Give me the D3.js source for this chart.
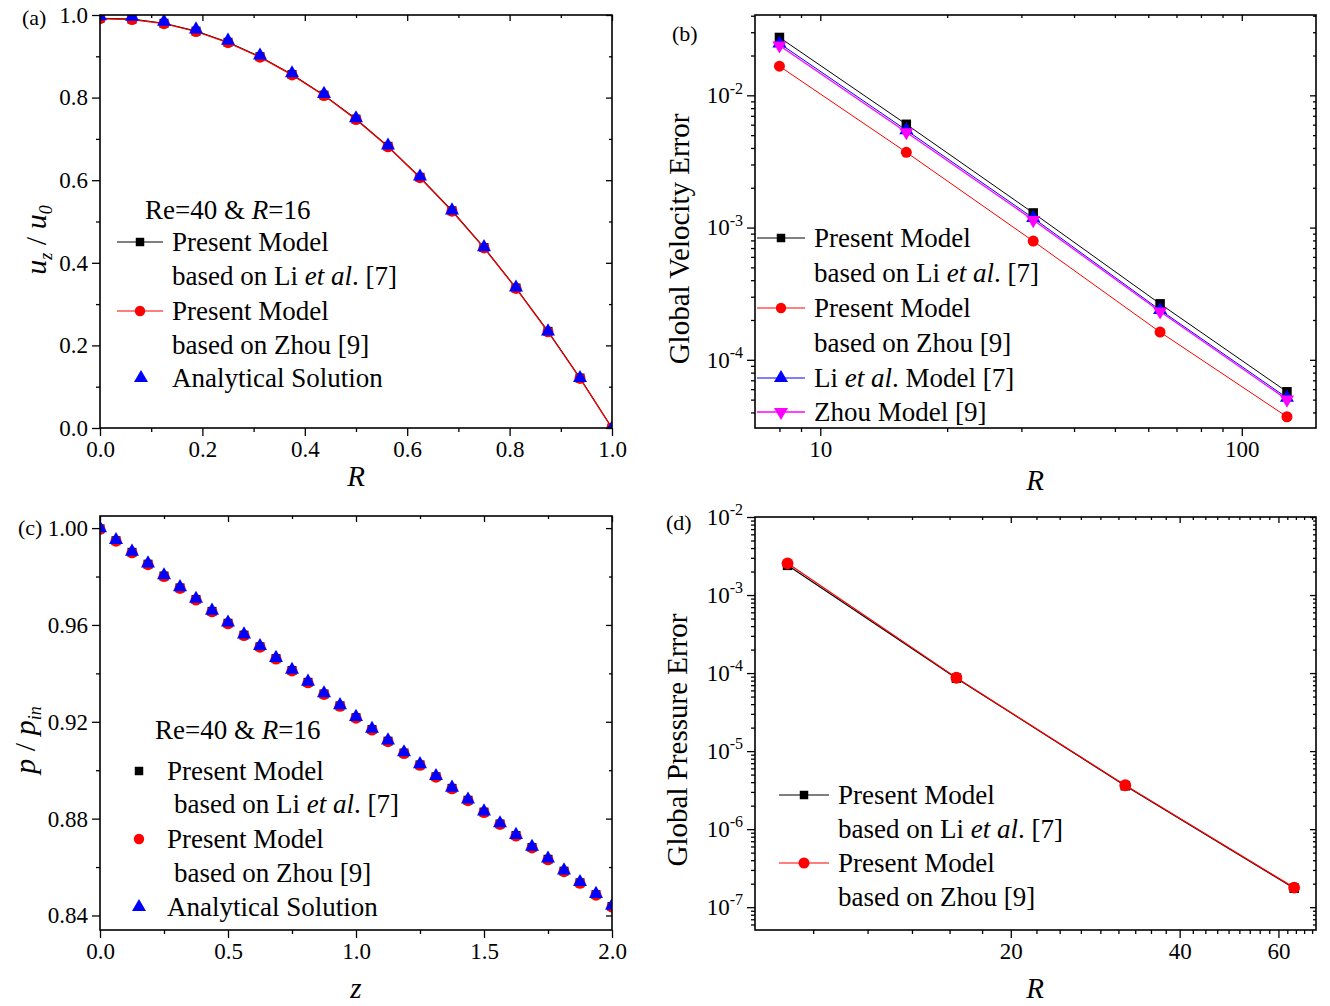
<!DOCTYPE html>
<html><head><meta charset="utf-8">
<script src="https://cdn.jsdelivr.net/npm/d3@7"></script>
<style>body{margin:0;background:#fff}svg{display:block}</style>
</head><body><svg id="c" width="1330" height="1006"></svg>
<script>
// ---------- Panel (a): velocity profile ----------
const rA = [0, 0.0625, 0.125, 0.1875, 0.25, 0.3125, 0.375, 0.4375, 0.5, 0.5625, 0.625, 0.6875, 0.75, 0.8125, 0.875, 0.9375, 1.0];
const uPresentLiA = [0.992, 0.990, 0.980, 0.961, 0.934, 0.899, 0.856, 0.806, 0.748, 0.682, 0.607, 0.526, 0.437, 0.339, 0.234, 0.121, 0.000];
const uPresentZhouA = [0.991, 0.989, 0.979, 0.960, 0.933, 0.898, 0.855, 0.805, 0.747, 0.681, 0.606, 0.525, 0.436, 0.338, 0.233, 0.120, 0.000];
const uAnalyticA = [0.997, 0.996, 0.984, 0.965, 0.938, 0.902, 0.859, 0.809, 0.750, 0.684, 0.609, 0.527, 0.438, 0.340, 0.234, 0.121, 0.000];
const xTicksA = [0, 0.2, 0.4, 0.6, 0.8, 1.0];
const xMinorA = [0.1, 0.3, 0.5, 0.7, 0.9];
const yTicksA = [0, 0.2, 0.4, 0.6, 0.8, 1.0];
const yMinorA = [0.1, 0.3, 0.5, 0.7, 0.9];

// ---------- Panel (b): global velocity error ----------
const rB = [8, 16, 32, 64, 128];
const errPresentLiB = [0.0274, 0.00604, 0.00129, 2.65e-4, 5.73e-5];
const errPresentZhouB = [0.0166, 0.00371, 7.9e-4, 1.62e-4, 3.71e-5];
const errLiB = [0.0247, 0.00545, 0.00118, 2.38e-4, 5.16e-5];
const errZhouB = [0.0238, 0.00526, 0.00114, 2.32e-4, 5.0e-5];
const xTicksB = [10, 100];
const xMinorB = [8, 9, 20, 30, 40, 50, 60, 70, 80, 90];
const yTicksB = [1e-4, 1e-3, 1e-2];
const yMinorB = [4e-5, 5e-5, 6e-5, 7e-5, 8e-5, 9e-5, 2e-4, 3e-4, 4e-4, 5e-4, 6e-4, 7e-4, 8e-4, 9e-4, 2e-3, 3e-3, 4e-3, 5e-3, 6e-3, 7e-3, 8e-3, 9e-3, 2e-2, 3e-2, 4e-2];

// ---------- Panel (c): pressure along z ----------
const zC = [0, 0.0625, 0.125, 0.1875, 0.25, 0.3125, 0.375, 0.4375, 0.5, 0.5625, 0.625, 0.6875, 0.75, 0.8125, 0.875, 0.9375, 1.0, 1.0625, 1.125, 1.1875, 1.25, 1.3125, 1.375, 1.4375, 1.5, 1.5625, 1.625, 1.6875, 1.75, 1.8125, 1.875, 1.9375, 2.0];
const pAnalyticC = [1.0000, 0.9951, 0.9903, 0.9854, 0.9805, 0.9756, 0.9708, 0.9659, 0.9610, 0.9561, 0.9513, 0.9464, 0.9415, 0.9366, 0.9318, 0.9269, 0.9220, 0.9171, 0.9123, 0.9074, 0.9025, 0.8976, 0.8928, 0.8879, 0.8830, 0.8781, 0.8733, 0.8684, 0.8635, 0.8586, 0.8538, 0.8489, 0.8440];
const pPresentLiC = [0.9997, 0.9948, 0.9900, 0.9851, 0.9802, 0.9753, 0.9705, 0.9656, 0.9607, 0.9558, 0.9510, 0.9461, 0.9412, 0.9363, 0.9315, 0.9266, 0.9217, 0.9168, 0.9120, 0.9071, 0.9022, 0.8973, 0.8925, 0.8876, 0.8827, 0.8778, 0.8730, 0.8681, 0.8632, 0.8583, 0.8535, 0.8486, 0.8437];
const pPresentZhouC = [0.9995, 0.9946, 0.9898, 0.9849, 0.9800, 0.9751, 0.9703, 0.9654, 0.9605, 0.9556, 0.9508, 0.9459, 0.9410, 0.9361, 0.9313, 0.9264, 0.9215, 0.9166, 0.9118, 0.9069, 0.9020, 0.8971, 0.8923, 0.8874, 0.8825, 0.8776, 0.8728, 0.8679, 0.8630, 0.8581, 0.8533, 0.8484, 0.8435];
const xTicksC = [0, 0.5, 1.0, 1.5, 2.0];
const xMinorC = [0.25, 0.75, 1.25, 1.75];
const yTicksC = [0.84, 0.88, 0.92, 0.96, 1.00];
const yMinorC = [0.86, 0.90, 0.94, 0.98];

// ---------- Panel (d): global pressure error ----------
const rD = [8, 16, 32, 64];
const errPresentLiD = [2.40e-3, 8.6e-5, 3.6e-6, 1.75e-7];
const errPresentZhouD = [2.55e-3, 8.7e-5, 3.65e-6, 1.78e-7];
const xTicksD = [20, 40, 60];
const xMinorD = [8.889, 11.111, 13.333, 15.556, 17.778, 22.222, 24.444, 26.667, 28.889, 31.111, 33.333, 35.556, 37.778, 42.222, 44.444, 46.667, 48.889, 51.111, 53.333, 55.556, 57.778, 62.222, 64.444, 66.667, 68.889];
const yTicksD = [1e-7, 1e-6, 1e-5, 1e-4, 1e-3, 1e-2];
const yMinorD = [6e-8, 7e-8, 8e-8, 9e-8, 2e-7, 3e-7, 4e-7, 5e-7, 6e-7, 7e-7, 8e-7, 9e-7, 2e-6, 3e-6, 4e-6, 5e-6, 6e-6, 7e-6, 8e-6, 9e-6, 2e-5, 3e-5, 4e-5, 5e-5, 6e-5, 7e-5, 8e-5, 9e-5, 2e-4, 3e-4, 4e-4, 5e-4, 6e-4, 7e-4, 8e-4, 9e-4, 2e-3, 3e-3, 4e-3, 5e-3, 6e-3, 7e-3, 8e-3, 9e-3];

// ---------- drawing ----------
const svg = d3.select('#c');
const FONT = "'Liberation Serif','Times New Roman',serif";
const TICKF = 23, LEGF = 27, TITLEF = 29;

function styleAxis(sel) {
  sel.select('.domain').remove();
  sel.attr('font-family', null).attr('font-size', null);
  sel.selectAll('text').attr('font-family', FONT).attr('font-size', TICKF).attr('fill', '#000');
  sel.selectAll('line').attr('stroke', '#000').attr('stroke-width', 1.3);
}
function supLabels(sel) {
  sel.selectAll('.tick text').each(function (d) {
    const e = Math.round(Math.log10(d));
    const t = d3.select(this);
    t.text(null);
    t.append('tspan').text('10');
    t.append('tspan').attr('dy', '-0.6em').attr('font-size', 16).text(String(e));
  });
}
function drawAxes(g, x, y, o) {
  const [X0, X1] = x.range(), [Y1, Y0] = y.range();
  const addX = (ypos, vals, size, fmt, pad) => g.append('g').attr('transform', `translate(0,${ypos})`)
    .call(d3.axisBottom(x).tickValues(vals).tickSize(size).tickSizeOuter(0).tickPadding(pad || 3).tickFormat(fmt || (() => ''))).call(styleAxis);
  const addY = (xpos, vals, size, fmt, pad) => g.append('g').attr('transform', `translate(${xpos},0)`)
    .call(d3.axisLeft(y).tickValues(vals).tickSize(size).tickSizeOuter(0).tickPadding(pad || 3).tickFormat(fmt || (() => ''))).call(styleAxis);
  addX(Y1, o.xMinor, 4);
  addX(Y1, o.xMajor, 8, o.xFmt, 5);
  addX(Y0, o.xMinor, 3);
  addX(Y0, o.xMajor, 6);
  addY(X0, o.yMinor, 4);
  const ly = addY(X0, o.yMajor, 8, o.yFmt, 4);
  if (o.yLog) supLabels(ly);
  // right spine ticks point inward
  g.append('g').attr('transform', `translate(${X1},0)`)
    .call(d3.axisLeft(y).tickValues(o.yMinor).tickSize(3).tickSizeOuter(0).tickFormat(() => '')).call(styleAxis);
  g.append('g').attr('transform', `translate(${X1},0)`)
    .call(d3.axisLeft(y).tickValues(o.yMajor).tickSize(6).tickSizeOuter(0).tickFormat(() => '')).call(styleAxis);
  g.append('rect').attr('x', X0).attr('y', Y0).attr('width', X1 - X0).attr('height', Y1 - Y0)
    .attr('fill', 'none').attr('stroke', '#000').attr('stroke-width', 1.6);
}
const SYM = { square: d3.symbolSquare, circle: d3.symbolCircle, tri: d3.symbolTriangle, tridown: d3.symbolTriangle };
function marker(g, type, cx, cy, color, size) {
  g.append('path').attr('d', d3.symbol(SYM[type], size)())
    .attr('transform', `translate(${cx},${cy})` + (type === 'tridown' ? ' rotate(180)' : ''))
    .attr('fill', color).attr('stroke', 'none');
}
function rich(g, x, y, parts, size, extra) {
  const t = g.append('text').attr('x', x).attr('y', y).attr('font-family', FONT).attr('font-size', size)
    .attr('fill', '#000').style('white-space', 'pre');
  if (extra) extra(t);
  parts.forEach(p => {
    const ts = t.append('tspan').text(p.t);
    if (p.i) ts.attr('font-style', 'italic');
    if (p.fs) ts.attr('font-size', p.fs);
    if (p.dy) ts.attr('dy', p.dy);
  });
  return t;
}
function vtitle(g, x, y, parts, size) {
  return rich(g, 0, 0, parts, size, t => t.attr('transform', `translate(${x},${y}) rotate(-90)`).attr('text-anchor', 'middle'));
}
let clipId = 0;
function plotArea(g, x, y) {
  const id = 'clip' + (clipId++);
  g.append('clipPath').attr('id', id).append('rect')
    .attr('x', x.range()[0]).attr('y', y.range()[1])
    .attr('width', x.range()[1] - x.range()[0]).attr('height', y.range()[0] - y.range()[1]);
  return g.append('g').attr('clip-path', `url(#${id})`);
}
function series(area, x, y, xs, ys, color, type, size, withLine, lw) {
  const pts = xs.map((v, i) => [x(v), y(ys[i])]);
  if (withLine) area.append('path').attr('d', d3.line()(pts)).attr('fill', 'none').attr('stroke', color).attr('stroke-width', lw || 1.1);
  pts.forEach(p => marker(area, type, p[0], p[1], color, size));
}
function legRow(g, x1, x2, y, color, type, size, withLine, lw) {
  if (withLine) g.append('line').attr('x1', x1).attr('x2', x2).attr('y1', y).attr('y2', y).attr('stroke', color).attr('stroke-width', lw || 1.1);
  marker(g, type, (x1 + x2) / 2, y, color, size);
}
const liParts = [{ t: 'based on Li ' }, { t: 'et al', i: true }, { t: '. [7]' }];
const zhouParts = [{ t: 'based on Zhou [9]' }];

// ===== Panel (a) =====
{
  const g = svg.append('g');
  const x = d3.scaleLinear().domain([0, 1]).range([100, 612]);
  const y = d3.scaleLinear().domain([0, 1]).range([428, 15]);
  const area = plotArea(g, x, y);
  series(area, x, y, rA, uPresentLiA, '#000', 'square', 81, true, 1.2);
  series(area, x, y, rA, uPresentZhouA, '#ff0000', 'circle', 95, true, 1.2);
  series(area, x, y, rA, uAnalyticA, '#0000ff', 'tri', 85, false);
  drawAxes(g, x, y, { xMajor: xTicksA, xMinor: xMinorA, yMajor: yTicksA, yMinor: yMinorA, xFmt: d3.format('.1f'), yFmt: d3.format('.1f') });
  rich(g, 22, 25, [{ t: '(a)' }], 22);
  rich(g, 356, 486, [{ t: 'R', i: true }], TITLEF).attr('text-anchor', 'middle');
  vtitle(g, 46, 240, [{ t: 'u', i: true }, { t: 'z', i: true, fs: 18, dy: 6 }, { t: ' / ', dy: -6 }, { t: 'u', i: true }, { t: '0', i: true, fs: 18, dy: 6 }], 30);
  rich(g, 145, 219, [{ t: 'Re=40 & ' }, { t: 'R', i: true }, { t: '=16' }], LEGF);
  legRow(g, 117, 163, 242, '#000', 'square', 72, true);
  rich(g, 172, 251, [{ t: 'Present Model' }], LEGF);
  rich(g, 172, 285, liParts, LEGF);
  legRow(g, 117, 163, 311, '#ff0000', 'circle', 85, true);
  rich(g, 172, 320, [{ t: 'Present Model' }], LEGF);
  rich(g, 172, 354, zhouParts, LEGF);
  legRow(g, 118, 164, 378, '#0000ff', 'tri', 85, false);
  rich(g, 172, 387, [{ t: 'Analytical Solution' }], LEGF);
}

// ===== Panel (b) =====
{
  const g = svg.append('g');
  const x = d3.scaleLog().domain([7, 150]).range([755, 1316]);
  const y = d3.scaleLog().domain([3.05e-5, 0.0405]).range([428, 15]);
  const area = plotArea(g, x, y);
  series(area, x, y, rB, errPresentLiB, '#000', 'square', 90, true, 1);
  series(area, x, y, rB, errPresentZhouB, '#ff0000', 'circle', 95, true, 1);
  series(area, x, y, rB, errLiB, '#0000ff', 'tri', 85, true, 1);
  series(area, x, y, rB, errZhouB, '#ff00ff', 'tridown', 85, true, 1.3);
  drawAxes(g, x, y, { xMajor: xTicksB, xMinor: xMinorB, yMajor: yTicksB, yMinor: yMinorB, xFmt: d3.format('d'), yFmt: d => String(d), yLog: true });
  rich(g, 672, 41, [{ t: '(b)' }], 22);
  rich(g, 1035, 490, [{ t: 'R', i: true }], TITLEF).attr('text-anchor', 'middle');
  vtitle(g, 689, 239, [{ t: 'Global Velocity Error' }], TITLEF);
  legRow(g, 757, 805, 238, '#000', 'square', 72, true, 1);
  rich(g, 814, 247, [{ t: 'Present Model' }], LEGF);
  rich(g, 814, 282, liParts, LEGF);
  legRow(g, 757, 805, 308, '#ff0000', 'circle', 85, true, 1);
  rich(g, 814, 317, [{ t: 'Present Model' }], LEGF);
  rich(g, 814, 352, zhouParts, LEGF);
  legRow(g, 757, 805, 378, '#0000ff', 'tri', 85, true, 1);
  rich(g, 814, 387, [{ t: 'Li ' }, { t: 'et al', i: true }, { t: '. Model [7]' }], LEGF);
  legRow(g, 757, 805, 412, '#ff00ff', 'tridown', 85, true, 1.3);
  rich(g, 814, 421, [{ t: 'Zhou Model [9]' }], LEGF);
}

// ===== Panel (c) =====
{
  const g = svg.append('g');
  const x = d3.scaleLinear().domain([0, 2]).range([100, 612]);
  const y = d3.scaleLinear().domain([0.834, 1.005]).range([930, 516]);
  const area = plotArea(g, x, y);
  series(area, x, y, zC, pPresentLiC, '#000', 'square', 81, false);
  series(area, x, y, zC, pPresentZhouC, '#ff0000', 'circle', 95, false);
  series(area, x, y, zC, pAnalyticC, '#0000ff', 'tri', 85, false);
  drawAxes(g, x, y, { xMajor: xTicksC, xMinor: xMinorC, yMajor: yTicksC, yMinor: yMinorC, xFmt: d3.format('.1f'), yFmt: d3.format('.2f') });
  rich(g, 18, 535, [{ t: '(c)' }], 22);
  rich(g, 356, 998, [{ t: 'z', i: true }], TITLEF).attr('text-anchor', 'middle');
  vtitle(g, 35, 740, [{ t: 'p', i: true }, { t: ' / ' }, { t: 'p', i: true }, { t: 'in', i: true, fs: 18, dy: 6 }], 30);
  rich(g, 155, 739, [{ t: 'Re=40 & ' }, { t: 'R', i: true }, { t: '=16' }], LEGF);
  marker(g, 'square', 139, 771, '#000', 72);
  rich(g, 167, 780, [{ t: 'Present Model' }], LEGF);
  rich(g, 174, 813, liParts, LEGF);
  marker(g, 'circle', 139, 839, '#ff0000', 85);
  rich(g, 167, 848, [{ t: 'Present Model' }], LEGF);
  rich(g, 174, 882, zhouParts, LEGF);
  marker(g, 'tri', 139, 907, '#0000ff', 85);
  rich(g, 167, 916, [{ t: 'Analytical Solution' }], LEGF);
}

// ===== Panel (d) =====
{
  const g = svg.append('g');
  const x = d3.scaleLog().domain([7, 70]).range([755, 1316]);
  const y = d3.scaleLog().domain([5.1e-8, 1e-2]).range([930, 517]);
  const area = plotArea(g, x, y);
  series(area, x, y, rD, errPresentLiD, '#000', 'square', 90, true, 1.2);
  series(area, x, y, rD, errPresentZhouD, '#ff0000', 'circle', 110, true, 1.2);
  drawAxes(g, x, y, { xMajor: xTicksD, xMinor: xMinorD, yMajor: yTicksD, yMinor: yMinorD, xFmt: d3.format('d'), yFmt: d => String(d), yLog: true });
  rich(g, 666, 530, [{ t: '(d)' }], 22);
  rich(g, 1035, 998, [{ t: 'R', i: true }], TITLEF).attr('text-anchor', 'middle');
  vtitle(g, 687, 740, [{ t: 'Global Pressure Error' }], TITLEF);
  legRow(g, 779, 829, 795, '#000', 'square', 72, true, 1.2);
  rich(g, 838, 804, [{ t: 'Present Model' }], LEGF);
  rich(g, 838, 838, liParts, LEGF);
  legRow(g, 779, 829, 863, '#ff0000', 'circle', 95, true, 1.2);
  rich(g, 838, 872, [{ t: 'Present Model' }], LEGF);
  rich(g, 838, 906, zhouParts, LEGF);
}
</script></body></html>
